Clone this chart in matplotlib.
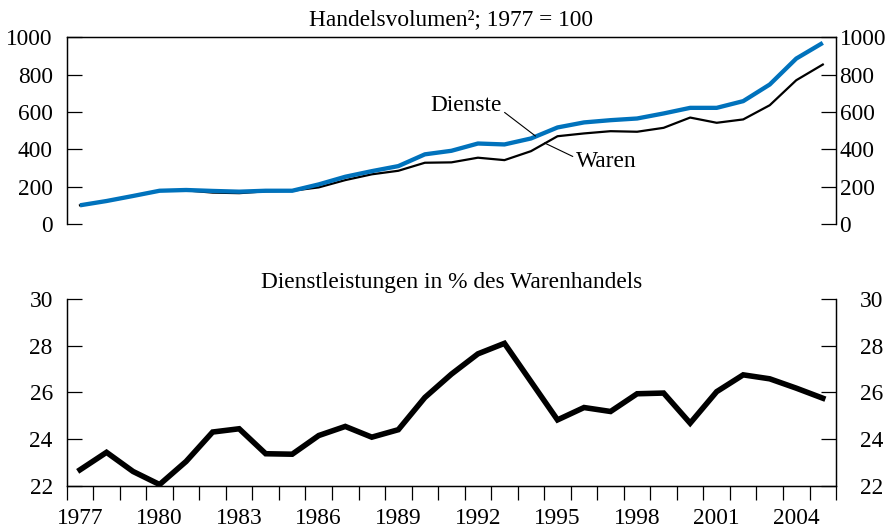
import numpy as np
import matplotlib
matplotlib.use('Agg')
import matplotlib.pyplot as plt
from matplotlib.ticker import FixedLocator

plt.rcParams['font.family'] = ['Liberation Serif', 'DejaVu Serif']

years = list(range(1977, 2006))

# Handelsvolumen, 1977 = 100
dienste = [100, 123, 150, 178, 182, 177, 173, 178, 178, 212, 253, 283, 310, 373,
           392, 431, 426, 458, 517, 544, 556, 565, 592, 622, 622, 658, 747, 886, 970]
waren = [100, 123, 150, 178, 180, 168, 165, 175, 178, 196, 235, 266, 285, 328,
         330, 355, 342, 390, 470, 485, 497, 494, 515, 570, 542, 560, 636, 770, 854]

# Dienstleistungen in % des Warenhandels
anteil = [22.68, 23.43, 22.61, 22.05, 23.04, 24.30, 24.44, 23.37, 23.35, 24.15,
          24.54, 24.08, 24.40, 25.78, 26.78, 27.65, 28.10, 26.46, 24.82, 25.35,
          25.18, 25.94, 25.97, 24.68, 26.03, 26.75, 26.58, 26.18, 25.75]

top_ticks = [0, 200, 400, 600, 800, 1000]
bottom_ticks = [22, 24, 26, 28, 30]
year_labels = list(range(1977, 2005, 3))

blue = '#0072bc'
fs = 16.8

fig = plt.figure(figsize=(8.85, 5.28), dpi=100)

# --- top panel ---
ax1 = fig.add_axes([0.0754, 0.5758, 0.8693, 0.3536])
ax1.plot(years, waren, color='black', lw=1.6, zorder=2)
ax1.plot(years, dienste, color=blue, lw=3.1, zorder=3, solid_capstyle='butt')
ax1.set_xlim(1976.5, 2005.5)
ax1.set_ylim(0, 1000)
ax1.spines['bottom'].set_visible(False)
for s in ax1.spines.values():
    s.set_linewidth(0.9)
ax1.set_xticks([])
ax1.set_yticks(top_ticks)
ax1.tick_params(axis='y', direction='in', length=11, width=0.9, pad=10, labelsize=fs)
ax1r = ax1.twinx()
ax1r.set_ylim(0, 1000)
ax1r.set_yticks(top_ticks)
ax1r.spines['bottom'].set_visible(False)
for s in ax1r.spines.values():
    s.set_linewidth(0.9)
ax1r.tick_params(axis='y', direction='in', length=11, width=0.9, pad=2.5, labelsize=fs)
ax1.set_title('Handelsvolumen²; 1977 = 100', fontsize=fs, pad=9)

ax1.annotate('Dienste', xy=(1994.17, 471), xytext=(1992.9, 637),
             ha='right', va='center', fontsize=fs,
             arrowprops=dict(arrowstyle='-', lw=0.8, color='black',
                             shrinkA=0, shrinkB=0, relpos=(1.0, 0.25)))
ax1.annotate('Waren', xy=(1994.51, 434), xytext=(1995.68, 332),
             ha='left', va='center', fontsize=fs,
             arrowprops=dict(arrowstyle='-', lw=0.8, color='black',
                             shrinkA=0, shrinkB=0, relpos=(0.0, 0.7)))

# --- bottom panel ---
ax2 = fig.add_axes([0.0754, 0.0801, 0.8693, 0.3536])
ax2.plot(years, anteil, color='black', lw=4, solid_joinstyle='miter')
ax2.set_xlim(1976.5, 2005.5)
ax2.set_ylim(22, 30)
ax2.spines['top'].set_visible(False)
for s in ax2.spines.values():
    s.set_linewidth(0.9)
ax2.xaxis.set_major_locator(FixedLocator(year_labels))
ax2.xaxis.set_minor_locator(FixedLocator(np.arange(1976.5, 2006, 1)))
ax2.tick_params(axis='x', which='major', length=0, pad=16, labelsize=fs)
ax2.tick_params(axis='x', which='minor', direction='out', length=10, width=0.9)
ax2.set_yticks(bottom_ticks)
ax2.tick_params(axis='y', direction='in', length=11, width=0.9, pad=10, labelsize=fs)
ax2r = ax2.twinx()
ax2r.set_ylim(22, 30)
ax2r.set_yticks(bottom_ticks)
ax2r.spines['top'].set_visible(False)
for s in ax2r.spines.values():
    s.set_linewidth(0.9)
ax2r.tick_params(axis='y', direction='in', length=11, width=0.9, pad=17, labelsize=fs)
ax2.set_title('Dienstleistungen in % des Warenhandels', fontsize=fs, pad=8)

fig.savefig('out.png', dpi=100)
